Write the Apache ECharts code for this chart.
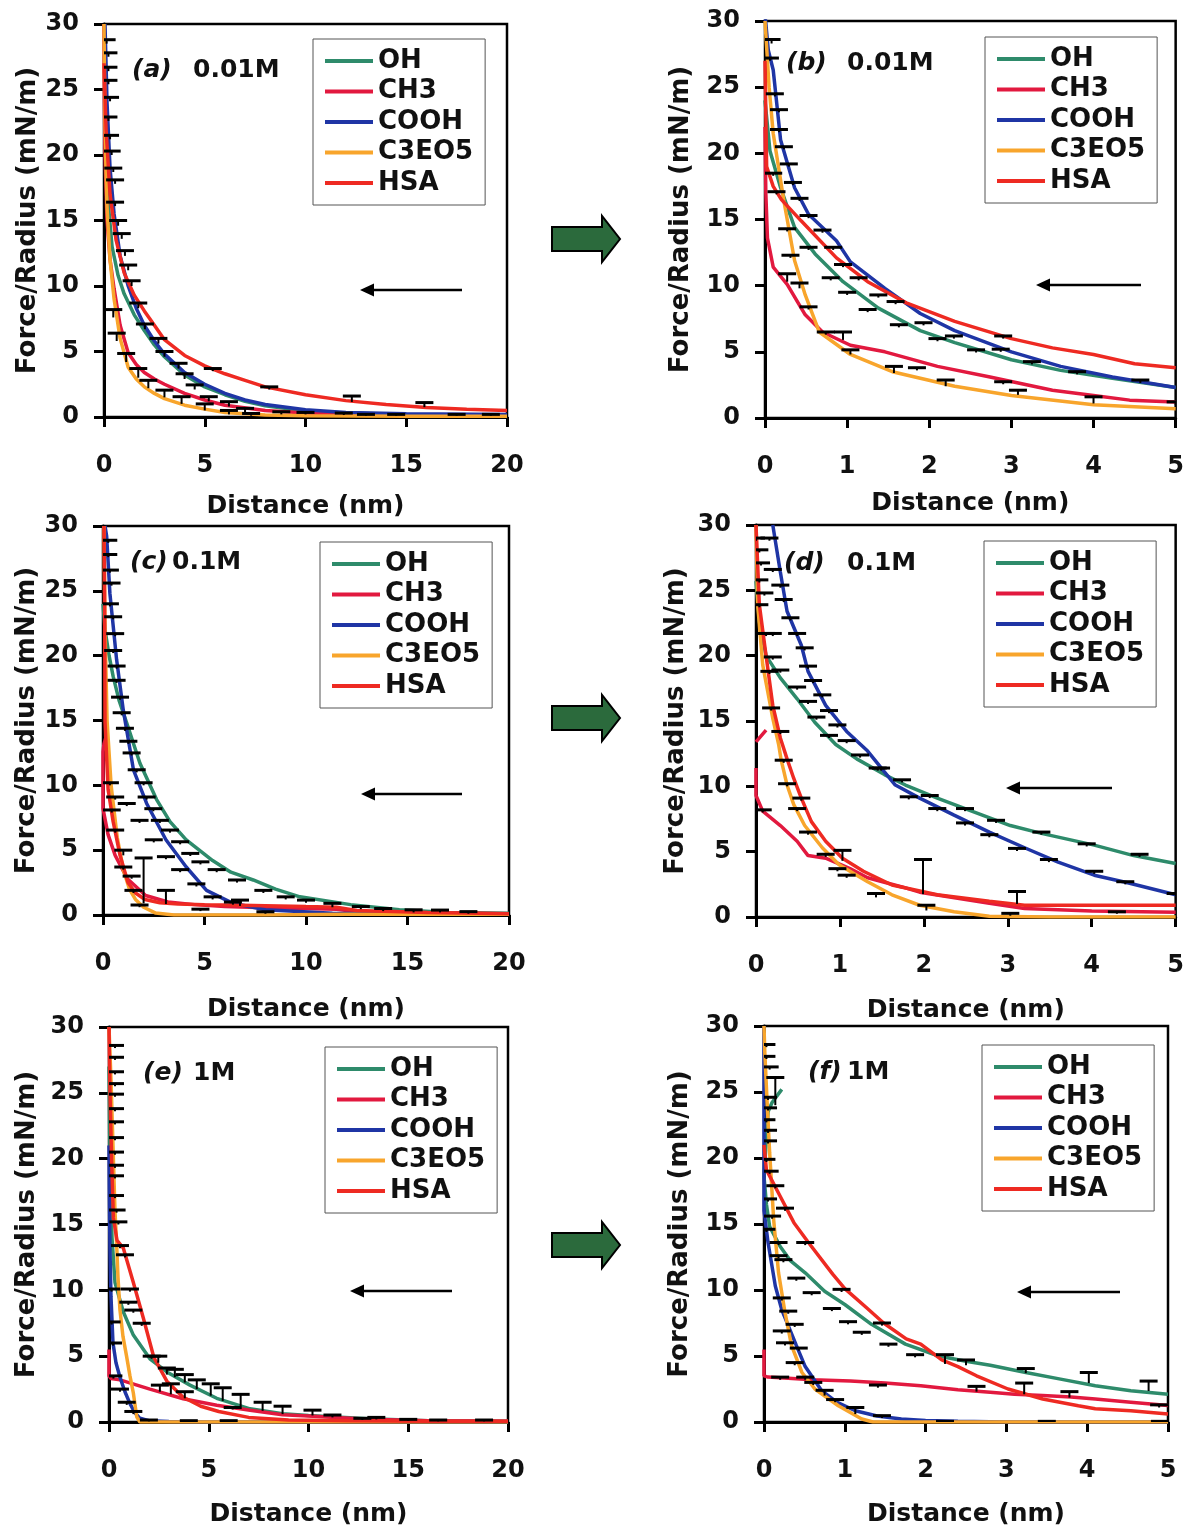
<!DOCTYPE html>
<html><head><meta charset="utf-8">
<script src="https://cdn.jsdelivr.net/npm/echarts@6/dist/echarts.min.js"></script>
<style>html,body{margin:0;padding:0;background:#fff}#c{width:1187px;height:1528px}</style>
</head><body><div id="c"></div>
<script>
// ---------------- DATA ----------------
const seriesNames = ['OH','CH3','COOH','C3EO5','HSA'];
const panelLabels = ['(a)','(b)','(c)','(d)','(e)','(f)'];
const concLabels = ['0.01M','0.01M','0.1M','0.1M','1M','1M'];
const xAxisTitle = 'Distance (nm)';
const yAxisTitle = 'Force/Radius (mN/m)';
const yRange = [0, 30, 5];
const xRangeWide = [0, 20, 5];
const xRangeNarrow = [0, 5, 1];

// Panel (a) 0.01M, 0-20 nm
const aOH = [[0.05,25],[0.1,20],[0.2,16.5],[0.4,13],[0.7,10.8],[1.0,9.4],[1.5,7.8],[2,6.6],[2.5,5.5],[3,4.6],[4,3.2],[5,2.3],[6,1.7],[7,1.2],[8,0.85],[10,0.45],[12,0.3],[15,0.2],[20,0.15]];
const aCH3 = [[0,30],[0.02,24],[0.05,20],[0.15,15],[0.3,12],[0.5,9.8],[0.8,7],[1.2,4.9],[1.6,4.0],[2,3.4],[2.5,2.9],[3,2.5],[4,1.8],[5,1.3],[6,0.9],[8,0.5],[10,0.3],[12,0.2],[15,0.15],[20,0.1]];
const aCOOH = [[0.05,30],[0.15,24],[0.3,19],[0.5,15.5],[0.8,12.3],[1.2,10],[1.6,8.3],[2,7.0],[2.5,5.8],[3,4.8],[4,3.4],[5,2.5],[6,1.8],[7,1.3],[8,0.95],[10,0.55],[12,0.35],[15,0.25],[20,0.2]];
const aC3EO5 = [[0,30],[0.03,25],[0.08,20],[0.15,16],[0.3,12],[0.5,9],[0.8,6],[1.2,3.8],[1.6,2.9],[2,2.3],[2.5,1.8],[3,1.4],[4,0.9],[5,0.6],[6,0.35],[8,0.15],[10,0.1],[15,0.05],[20,0.05]];
const aHSA = [[0,27],[0.1,22],[0.3,17],[0.6,13.5],[1.0,11],[1.5,9.3],[2,8.1],[2.5,7.0],[3,5.9],[4,4.7],[5,3.9],[6,3.3],[7,2.8],[8,2.3],[10,1.7],[12,1.25],[14,0.95],[16,0.72],[18,0.6],[20,0.5]];
const aErr = [[0.13,28.5,28.8],[0.22,27.5,27.8],[0.22,26.4,26.7],[0.22,25.4,25.7],[0.3,24.1,24.4],[0.22,22.6,22.9],[0.3,21.2,21.5],[0.38,20,20.3],[0.46,18.7,19],[0.55,17.8,18.1],[0.55,16.1,16.4],[0.7,14.6,15],[0.88,13.6,14],[1.04,12.3,12.7],[1.2,11.2,11.6],[1.37,10,10.4],[1.7,8.3,8.7],[2.03,6.7,7.1],[2.7,5.6,6.0],[3.0,4.6,5.0],[3.7,3.7,4.1],[4.0,2.9,3.3],[5.4,3.5,3.7],[4.5,2.1,2.45],[5.2,1.2,1.55],[6.2,0.8,1.17],[7.0,0.35,0.66],[8.2,2.1,2.3],[8.8,0.2,0.4],[0.46,7.6,8.2],[0.63,5.8,6.4],[1.1,4.2,4.85],[1.7,3.0,3.7],[2.2,2.2,2.8],[3.0,1.5,2.05],[3.85,1.0,1.55],[5.0,0.5,1.0],[6.2,0.2,0.5],[7.3,0.1,0.27],[12.3,1.15,1.6],[15.9,0.75,1.1],[11.9,0.15,0.3],[13,0.1,0.2],[14.5,0.1,0.2],[17.5,0.1,0.2],[19.2,0.1,0.2],[10,0.2,0.35]];

// Panel (b) 0.01M, 0-5 nm
const bOH = [[0,24],[0.06,20.2],[0.19,17.4],[0.36,14.4],[0.61,12.4],[0.95,10.3],[1.38,8.3],[1.89,6.6],[2.31,5.7],[3.0,4.4],[3.6,3.6],[4.23,3.0],[5.0,2.3]];
const bCH3 = [[0,22],[0.01,17],[0.03,13.6],[0.1,11.4],[0.27,10.1],[0.49,7.8],[0.7,6.5],[1.04,5.5],[1.46,5.0],[2.1,3.9],[2.74,3.1],[3.5,2.1],[4.0,1.7],[4.44,1.35],[5.0,1.2]];
const bCOOH = [[0,30.5],[0.04,27.8],[0.1,26.3],[0.19,21],[0.36,17.4],[0.53,15.4],[0.87,13.4],[1.04,11.8],[1.46,9.8],[1.89,7.9],[2.31,6.6],[3.0,5.0],[3.6,3.9],[4.23,3.1],[5.0,2.3]];
const bC3EO5 = [[0,30],[0.05,25],[0.1,21.5],[0.23,16.4],[0.36,11.9],[0.49,9.3],[0.66,6.5],[1.04,4.8],[1.55,3.5],[2.31,2.4],[3.0,1.7],[4.0,1.0],[5.0,0.7]];
const bHSA = [[0,27],[0.02,19],[0.1,17.5],[0.2,16.5],[0.44,14.9],[0.87,12.1],[1.25,10.3],[1.72,8.7],[2.31,7.3],[3.0,6.0],[3.5,5.3],[4.0,4.8],[4.5,4.1],[5.0,3.8]];
const bErr = [[0.08,28.3,28.6],[0.06,27,27.2],[0.12,24.3,24.5],[0.17,23.1,23.3],[0.17,21.6,21.8],[0.23,20.3,20.5],[0.29,19,19.2],[0.34,17.6,17.8],[0.42,16.4,16.6],[0.53,15.1,15.3],[0.7,14,14.2],[0.83,12.7,12.9],[0.95,11.4,11.6],[1.14,10.4,10.6],[1.38,9.1,9.3],[1.59,8.6,8.8],[1.93,7,7.2],[2.3,6,6.2],[2.9,6.0,6.2],[2.57,4.95,5.15],[3.25,4.05,4.26],[3.8,3.3,3.5],[4.57,2.65,2.87],[0.1,18.3,18.5],[0.14,16.9,17.1],[0.27,14.1,14.3],[0.31,12.1,12.3],[0.53,12.7,12.9],[0.8,10.4,10.6],[1.0,9.3,9.5],[1.25,8.0,8.2],[1.63,6.85,7.05],[2.1,5.8,6.0],[2.87,5.0,5.2],[0.27,10.3,10.9],[0.42,9.8,10.2],[0.53,8.2,8.4],[0.74,6.3,6.5],[0.95,5.9,6.5],[1.04,4.8,5.15],[1.57,3.4,3.9],[1.85,3.6,3.8],[2.2,2.4,2.87],[2.9,2.55,2.74],[3.08,1.75,2.1],[4.0,1.1,1.6],[5.0,1.0,1.22]];

// Panel (c) 0.1M, 0-20 nm
const cOH = [[0,24],[0.1,22],[0.3,20],[0.5,18.4],[0.8,16.5],[1.17,14.8],[1.82,11.7],[2.64,8.9],[3.3,7.2],[4.1,5.8],[5.4,4.2],[6.3,3.3],[7.4,2.7],[8.5,2.0],[9.7,1.4],[12.2,0.8],[14.6,0.4],[17,0.2],[20,0.13]];
const cCH3 = [[0.18,13.9],[0.05,13.2],[0,12.6],[0,8.2],[0.25,6.2],[0.6,4.6],[1.2,2.8],[2.1,1.5],[3.2,1.0],[4.5,0.8],[6,0.65],[8,0.55],[10,0.5],[11.5,0.45],[12.5,0.25],[16,0.15],[20,0.1]];
const cCOOH = [[0.1,30],[0.18,29.2],[0.34,24.8],[0.67,19.7],[1.0,15.8],[1.5,11.2],[2.15,8.6],[3.1,5.8],[4.1,3.7],[5.1,1.9],[6.4,0.9],[8,0.4],[11.3,0.13],[15,0.1],[20,0.1]];
const cC3EO5 = [[0.05,30],[0.1,22],[0.2,15],[0.4,10],[0.7,6],[1.0,3.5],[1.3,2.0],[1.6,1.2],[2.0,0.6],[2.6,0.15],[3.5,0],[8,0],[12,0.05],[20,0.05]];
const cHSA = [[0.05,30],[0.08,24],[0.1,14.9],[0.25,9.7],[0.5,7.2],[0.84,4.6],[1.23,2.5],[1.6,1.7],[2.07,1.2],[2.8,0.95],[3.7,0.85],[5,0.8],[6.2,0.78],[8,0.72],[10,0.65],[11.5,0.6],[12.5,0.35],[16,0.2],[20,0.1]];
const cErr = [[0.26,28.7,28.9],[0.26,27.6,27.8],[0.34,26.4,26.6],[0.42,25.4,25.6],[0.34,23.8,24],[0.5,22.8,23],[0.6,21.5,21.7],[0.5,20.2,20.4],[0.67,19,19.2],[0.67,17.9,18.1],[0.84,16.6,16.8],[0.92,15.4,15.6],[1.08,14.2,14.4],[1.25,13.2,13.4],[1.41,12.3,12.5],[1.66,11,11.2],[2.0,10,10.2],[2.15,8.9,9.1],[2.48,8,8.2],[2.8,7.1,7.3],[3.3,6.35,6.55],[3.8,5.45,5.65],[4.3,4.55,4.75],[4.8,3.9,4.1],[5.6,3.3,3.5],[6.6,2.5,2.7],[7.9,1.7,1.9],[9.0,1.2,1.4],[10.0,0.95,1.15],[11.3,0.6,0.9],[12.7,0.45,0.65],[13.8,0.3,0.5],[15.3,0.2,0.4],[16.6,0.2,0.38],[18,0.1,0.26],[1.17,8.4,8.6],[1.8,7.1,7.3],[2.5,5.6,5.8],[3.1,4.3,4.5],[3.8,3.3,3.5],[4.6,2.2,2.4],[5.4,1.2,1.4],[6.4,0.8,1.0],[0.34,10,10.2],[0.6,8.9,9.1],[0.43,7.9,8.1],[0.6,6.35,6.55],[1.0,4.6,5.0],[1.0,3.5,3.7],[1.41,2.8,3.0],[1.5,1.7,1.9],[2.0,0.9,4.4],[1.8,0.6,0.77],[3.1,0.85,1.9],[6.75,0.7,1.15],[4.8,0.3,0.45],[8,0.1,0.25]];

// Panel (d) 0.1M, 0-5 nm
const dOH = [[0,25.7],[0.04,22.6],[0.12,20],[0.29,18.3],[0.49,16.7],[0.7,14.9],[0.95,13.2],[1.2,12.1],[1.53,10.9],[1.78,10.1],[2.16,9.1],[2.57,8.1],[3.03,7.0],[3.4,6.4],[4.03,5.5],[4.5,4.7],[5.0,4.1]];
const dCH3 = [[0.12,14.3],[0,13.4],[0,'-'],[0,11.4],[0,9.3],[0.08,8.1],[0.29,7.0],[0.49,5.8],[0.62,4.7],[0.83,4.5],[1.12,3.7],[1.33,3.0],[1.74,2.3],[1.95,1.9],[2.78,1.05],[3.2,0.65],[4.0,0.45],[5.0,0.36]];
const dCOOH = [[0.2,30],[0.29,26.4],[0.37,23.4],[0.54,20.8],[0.62,18.8],[0.83,16.2],[1.08,14.2],[1.33,12.7],[1.53,11.1],[1.66,10.1],[1.95,9.1],[2.36,7.8],[2.78,6.5],[3.2,5.3],[3.6,4.2],[4.03,3.2],[4.44,2.6],[5.0,1.7]];
const dC3EO5 = [[0,30],[0.02,23.9],[0.08,19.3],[0.2,15.2],[0.27,13.2],[0.3,12],[0.33,11.2],[0.37,10.1],[0.45,8.6],[0.58,7.0],[0.79,5.3],[0.99,4.0],[1.33,2.7],[1.62,1.7],[1.95,0.9],[2.36,0.4],[2.78,0.05],[3.5,0],[5,0]];
const dHSA = [[0,30],[0.04,23.9],[0.12,20],[0.2,16.2],[0.29,13.7],[0.37,12.1],[0.45,10.6],[0.54,9.1],[0.66,7.3],[0.83,5.8],[1.03,4.5],[1.28,3.5],[1.62,2.45],[2.16,1.7],[2.78,1.2],[3.2,0.9],[4,0.9],[5.0,0.9]];
const dErr = [[0.1,24.6,24.8],[0.04,23.7,23.9],[0.2,21.5,21.7],[0.2,19.7,19.9],[0.29,18.7,18.9],[0.49,17.4,17.6],[0.62,16.3,16.5],[0.72,15.1,15.3],[0.87,13.7,13.9],[1.24,12.2,12.4],[1.49,11.2,11.4],[1.74,10.3,10.5],[2.07,9.1,9.3],[2.49,8.1,8.3],[2.86,7.2,7.4],[3.4,6.3,6.5],[3.94,5.4,5.6],[4.57,4.6,4.8],[0.16,28.8,29],[0.2,26.4,26.6],[0.29,25.2,25.4],[0.33,24.1,24.3],[0.41,22.7,22.9],[0.49,21.5,21.7],[0.58,20.4,20.6],[0.62,19,19.2],[0.68,17.9,18.1],[0.79,16.8,17],[0.87,15.6,15.8],[0.97,14.5,14.7],[1.08,13.3,13.5],[1.45,11.2,11.4],[1.82,9,9.2],[2.16,8.1,8.3],[2.49,7,7.2],[2.78,6.1,6.3],[3.11,5.05,5.25],[3.49,4.2,4.4],[4.03,3.3,3.5],[4.4,2.5,2.7],[5.0,1.6,1.8],[0,28.8,29],[0.04,27.9,28.1],[0.06,26.9,27.1],[0.04,25.6,25.8],[0.12,21.5,21.7],[0.16,18.6,18.8],[0.18,15.8,16],[0.29,14,14.2],[0.33,11.8,12],[0.37,10,10.2],[0.54,8.9,9.1],[0.49,8.1,8.3],[0.62,6.3,6.5],[0.83,4.6,4.8],[1.03,4.3,5.1],[0.97,3.5,3.7],[1.08,3.0,3.2],[1.43,1.5,1.8],[1.99,1.75,4.4],[2.03,0.5,0.9],[3.11,1.0,1.95],[3.03,0.1,0.28],[4.3,0.25,0.4],[0.08,8.0,8.2]];

// Panel (e) 1M, 0-20 nm
const eOH = [[0,27],[0.05,20],[0.15,14],[0.3,10.6],[0.72,8.35],[1.22,6.6],[2.05,4.8],[2.9,3.8],[4.06,2.8],[5.4,1.8],[7.07,1.0],[8.7,0.63],[10,0.5],[13,0.25],[16,0.1],[20,0.05]];
const eCH3 = [[0,5.5],[0,3.5],[0.1,3.3],[0.55,3.2],[1.2,2.9],[2.05,2.5],[3.72,1.77],[5.4,1.27],[7.07,0.9],[8.7,0.55],[10,0.45],[13,0.2],[16,0.1],[20,0.05]];
const eCOOH = [[0,21],[0.02,17],[0.05,13],[0.1,9.5],[0.2,6],[0.35,4.5],[0.55,3.4],[0.8,2.3],[1.05,1.4],[1.3,0.7],[1.55,0.28],[2,0.1],[3,0.03],[5,0],[10,0],[20,0]];
const eC3EO5 = [[0,30],[0.1,26],[0.2,21],[0.3,16],[0.38,13.6],[0.45,11],[0.55,8.5],[0.7,6.5],[0.88,5],[1.05,3.5],[1.22,2.2],[1.39,0.4],[1.55,0],[3,0],[10,0],[20,0]];
const eHSA = [[0,30],[0.05,25],[0.13,20],[0.22,15.5],[0.4,13.8],[0.72,13.2],[1.22,10.6],[1.72,7.9],[2.25,4.9],[2.9,3.1],[3.7,1.9],[4.6,1.2],[5.5,0.8],[7,0.35],[9,0.15],[12,0.1],[16,0.05],[20,0.05]];
const eErr = [[0.3,28.4,28.6],[0.3,27.5,27.7],[0.3,26.4,26.6],[0.3,25.5,25.7],[0.3,24.7,24.9],[0.3,23.6,23.8],[0.3,22.6,22.8],[0.3,21.4,21.6],[0.3,20.3,20.5],[0.3,19.3,19.5],[0.3,18.5,18.7],[0.3,17,17.2],[0.38,15.9,16.1],[0.47,15,15.2],[0.55,13.2,13.4],[0.8,12.5,12.7],[1.05,9.9,10.1],[0.97,8.9,9.1],[1.22,8.3,8.5],[1.64,7.3,7.5],[2.14,4.8,5.0],[2.47,4.5,5.0],[2.9,3.6,4.1],[3.3,3.4,4.0],[3.8,3.0,3.6],[4.4,2.5,3.2],[5.1,2.0,2.9],[5.7,1.6,2.6],[6.6,1.2,2.1],[7.7,0.85,1.5],[8.7,0.6,1.2],[10.2,0.5,0.9],[11.2,0.35,0.53],[12.7,0.15,0.28],[13.4,0.2,0.35],[15,0.1,0.2],[16.5,0.05,0.15],[18.8,0.05,0.15],[2.55,2.3,2.8],[3.1,2.1,2.9],[3.8,1.8,2.3],[6.2,0.95,1.1],[0.22,3.3,3.5],[0.55,2.3,2.5],[0.89,1.3,1.5],[1.22,0.6,0.8],[0.13,9.9,10.1],[0.13,7.4,7.6],[0.2,5.8,6.0],[2,0.05,0.15],[4,0,0.1],[6,0,0.1]];

// Panel (f) 1M, 0-5 nm
const fOH = [[0.22,25.2],[0.1,24.2],[0.05,23.5],[0,18.6],[0.03,16.5],[0.07,14.8],[0.2,13.3],[0.33,12.2],[0.51,11.3],[0.75,9.9],[1.0,8.9],[1.33,7.4],[1.75,5.9],[2.16,5.0],[2.5,4.6],[2.8,4.3],[3.24,3.75],[3.67,3.25],[4.1,2.75],[4.54,2.37],[5.0,2.1]];
const fCH3 = [[0,5.5],[0,3.5],[0.05,3.4],[0.2,3.35],[0.6,3.2],[1.07,3.1],[1.5,2.95],[1.94,2.75],[2.4,2.45],[2.8,2.25],[3.1,2.1],[3.45,2.0],[3.8,1.9],[4.1,1.74],[4.54,1.5],[5.0,1.25]];
const fCOOH = [[0,30],[0,23.6],[0,16],[0.05,13.6],[0.14,10.3],[0.22,8.5],[0.3,7.3],[0.4,5.8],[0.51,4.2],[0.71,2.4],[0.9,1.5],[1.13,0.85],[1.4,0.45],[1.7,0.22],[2.0,0.12],[2.4,0.05],[3,0],[5,0]];
const fC3EO5 = [[0,30],[0.01,28],[0.04,24],[0.07,20.4],[0.12,15.3],[0.18,11.3],[0.26,8.3],[0.34,5.8],[0.47,3.75],[0.63,2.5],[0.92,1.23],[1.21,0.23],[1.35,0],[2,0],[5,0]];
const fHSA = [[0,21],[0.03,19.1],[0.2,17.1],[0.37,15.1],[0.55,13.6],[0.85,11.2],[1.0,10.1],[1.28,8.6],[1.48,7.5],[1.76,6.3],[1.94,5.9],[2.2,4.7],[2.4,4.2],[2.63,3.5],[3.02,2.5],[3.45,1.74],[3.89,1.23],[4.1,1.0],[4.54,0.86],[5.0,0.6]];
const fErr = [[0.03,28.4,28.6],[0.03,27.5,27.7],[0.07,26.7,26.9],[0.14,24,26.1],[0.05,24.4,24.6],[0.05,23.6,23.8],[0.03,22.7,22.9],[0.05,21.9,22.1],[0.05,21.1,21.3],[0.03,19.7,19.9],[0.07,18.8,19],[0.14,17.7,17.9],[0.05,16.7,16.9],[0.26,16,16.2],[0.1,15.4,15.6],[0.03,14.4,14.6],[0.18,13.4,13.6],[0.51,13.4,13.6],[0.18,12.4,12.6],[0.24,12.1,12.3],[0.4,10.7,10.9],[0.96,9.85,10.05],[0.59,9.6,9.8],[0.84,8.4,8.6],[0.22,9.2,9.4],[0.3,8.2,8.4],[0.38,7.2,7.4],[1.04,7.4,7.6],[1.46,7.3,7.5],[1.21,6.6,6.8],[1.54,5.7,5.9],[1.87,4.9,5.1],[2.24,4.4,5.1],[0.22,6.7,6.9],[0.26,5.8,6.0],[0.43,5.4,5.6],[0.38,4.3,4.5],[0.51,3.2,3.4],[0.61,2.8,3.0],[0.75,2.0,2.4],[0.88,1.5,1.7],[1.13,0.6,1.1],[1.46,0.3,0.48],[2.5,4.3,4.7],[3.24,3.7,4.05],[3.22,2.1,2.95],[4.02,2.95,3.75],[4.76,2.35,3.1],[2.63,2.3,2.7],[3.78,1.85,2.3],[4.89,1.1,1.3],[3.5,-0.05,0.05],[2.24,-0.05,0.05],[1.41,2.6,2.8],[0.2,3.2,3.4],[4.9,-0.05,0.05]];

const panelSeries = [
  [aOH,aCH3,aCOOH,aC3EO5,aHSA],
  [bOH,bCH3,bCOOH,bC3EO5,bHSA],
  [cOH,cCH3,cCOOH,cC3EO5,cHSA],
  [dOH,dCH3,dCOOH,dC3EO5,dHSA],
  [eOH,eCH3,eCOOH,eC3EO5,eHSA],
  [fOH,fCH3,fCOOH,fC3EO5,fHSA]
];
const panelErrors = [aErr,bErr,cErr,dErr,eErr,fErr];

// ---------------- LAYOUT / STYLE ----------------
const colors = {OH:'#2e8b6b', CH3:'#e2193f', COOH:'#1f35a5', C3EO5:'#f8a52c', HSA:'#ee2a22'};
const FONT = '"DejaVu Sans", "Liberation Sans", Arial, sans-serif';
const layout = [
  {g:[104,24,403,393],  xr:xRangeWide,   yGap:62, xGap:77, lg:[313,39],   lab:[132,193,70],  arr:[462,360,290]},
  {g:[765,21,412,397],  xr:xRangeNarrow, yGap:71, xGap:73, lg:[985,37],   lab:[786,847,63],  arr:[1141,1036,285]},
  {g:[103,526,406,389], xr:xRangeWide,   yGap:63, xGap:82, lg:[320,542],  lab:[130,172,562], arr:[462,361,794]},
  {g:[756,525,422,392], xr:xRangeNarrow, yGap:67, xGap:81, lg:[984,541],  lab:[784,847,563], arr:[1112,1006,788]},
  {g:[109,1027,399,395],xr:xRangeWide,   yGap:69, xGap:80, lg:[325,1047], lab:[143,193,1073],arr:[452,350,1291]},
  {g:[764,1026,404,397],xr:xRangeNarrow, yGap:71, xGap:80, lg:[982,1045], lab:[808,847,1072],arr:[1120,1017,1292]}
];
const greenArrowCenters = [239, 718, 1245];

function errItem(params, api){
  const x = api.value(0), lo = api.value(1), hi = api.value(2);
  const a = api.coord([x, lo]), b = api.coord([x, hi]);
  const w = 9;
  return {type:'group', children:[
    {type:'line', shape:{x1:a[0],y1:a[1],x2:b[0],y2:b[1]}, style:{stroke:'#000',lineWidth:2}},
    {type:'line', shape:{x1:b[0]-w,y1:b[1],x2:b[0]+w,y2:b[1]}, style:{stroke:'#000',lineWidth:3}}
  ]};
}

const grids = [], xAxes = [], yAxes = [], series = [], legends = [], graphics = [];
layout.forEach((p, i) => {
  grids.push({left:p.g[0], top:p.g[1], width:p.g[2], height:p.g[3], show:true, borderColor:'#000', borderWidth:2.5, backgroundColor:'transparent'});
  xAxes.push({
    type:'value', gridIndex:i, min:p.xr[0], max:p.xr[1], interval:p.xr[2],
    name:xAxisTitle, nameLocation:'middle', nameGap:p.xGap,
    nameTextStyle:{fontFamily:FONT, fontWeight:'bold', fontSize:25, color:'#111'},
    axisLine:{show:true, onZero:false, lineStyle:{color:'#000', width:3}},
    axisTick:{show:true, inside:false, length:10, lineStyle:{color:'#000', width:3}},
    axisLabel:{margin:37, fontFamily:FONT, fontWeight:'bold', fontSize:24, color:'#111'},
    splitLine:{show:false}
  });
  yAxes.push({
    type:'value', gridIndex:i, min:yRange[0], max:yRange[1], interval:yRange[2],
    name:yAxisTitle, nameLocation:'middle', nameGap:p.yGap,
    nameTextStyle:{fontFamily:FONT, fontWeight:'bold', fontSize:26, color:'#111'},
    axisLine:{show:true, onZero:false, lineStyle:{color:'#000', width:3}},
    axisTick:{show:true, inside:false, length:10, lineStyle:{color:'#000', width:3}},
    axisLabel:{margin:25, fontFamily:FONT, fontWeight:'bold', fontSize:24, color:'#111'},
    splitLine:{show:false}
  });
  seriesNames.forEach((nm, k) => {
    series.push({
      type:'line', name:nm, xAxisIndex:i, yAxisIndex:i, data:panelSeries[i][k],
      showSymbol:false, symbol:'none', smooth:false, clip:true, connectNulls:false,
      color:colors[nm], itemStyle:{color:colors[nm]},
      lineStyle:{color:colors[nm], width:3.5}, z:2, animation:false
    });
  });
  series.push({
    type:'custom', name:'err', xAxisIndex:i, yAxisIndex:i, data:panelErrors[i],
    encode:{x:0, y:[1,2]}, renderItem:errItem, clip:true, z:3, silent:true, animation:false
  });
  legends.push({
    data:seriesNames, left:p.lg[0], top:p.lg[1], orient:'vertical',
    icon:'rect', itemWidth:48, itemHeight:4, itemGap:4.5,
    padding:[9,12,9,12], backgroundColor:'#fff', borderColor:'#555', borderWidth:1,
    textStyle:{fontFamily:FONT, fontWeight:'bold', fontSize:26, color:'#111', lineHeight:26},
    selectedMode:false
  });
  graphics.push({type:'text', x:p.lab[0], y:p.lab[2], style:{text:panelLabels[i], font:'italic bold 25px ' + FONT, fill:'#111', verticalAlign:'middle', textVerticalAlign:'middle'}});
  graphics.push({type:'text', x:p.lab[1], y:p.lab[2], style:{text:concLabels[i], font:'bold 25px ' + FONT, fill:'#111', verticalAlign:'middle', textVerticalAlign:'middle'}});
  const [x1, x2, y] = p.arr;
  graphics.push({type:'line', shape:{x1:x1, y1:y, x2:x2+12, y2:y}, style:{stroke:'#000', lineWidth:2.5}});
  graphics.push({type:'polygon', shape:{points:[[x2,y],[x2+14,y-6.5],[x2+14,y+6.5]]}, style:{fill:'#000'}});
});
greenArrowCenters.forEach(c => {
  graphics.push({type:'polygon', shape:{points:[[552,c-12],[602,c-12],[602,c-23],[620,c],[602,c+23],[602,c+12],[552,c+12]]},
    style:{fill:'#2b6a3c', stroke:'#000', lineWidth:2}});
});

const chart = echarts.init(document.getElementById('c'), null, {renderer:'canvas'});
chart.setOption({
  animation:false,
  backgroundColor:'#fff',
  grid:grids, xAxis:xAxes, yAxis:yAxes, series:series, legend:legends, graphic:graphics
});
</script>
</body></html>
